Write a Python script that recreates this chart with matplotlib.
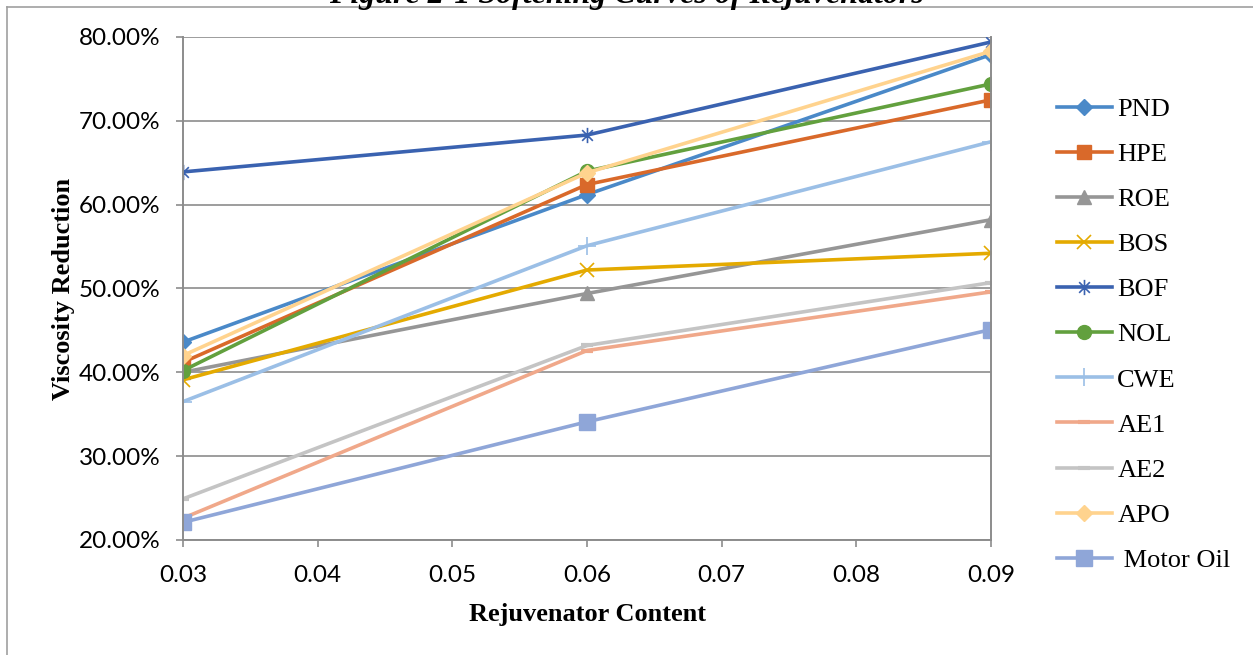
import numpy as np
import matplotlib.pyplot as plt
from matplotlib.lines import Line2D
from matplotlib.path import Path
from matplotlib.ticker import FuncFormatter, MultipleLocator

plt.rcParams.update({
    'font.family': 'serif',
    'font.serif': ['Liberation Serif'],
})

# rejuvenator content (x) and viscosity reduction in % (y)
content = [0.03, 0.06, 0.09]

names = ['PND', 'HPE', 'ROE', 'BOS', 'BOF', 'NOL', 'CWE', 'AE1', 'AE2', 'APO', ' Motor Oil']
pnd = [43.6, 61.2, 77.9]
hpe = [41.2, 62.4, 72.5]
roe = [40.0, 49.4, 58.2]
bos = [39.1, 52.2, 54.2]
bof = [63.9, 68.3, 79.4]
nol = [40.2, 64.0, 74.4]
cwe = [36.5, 55.1, 67.5]
ae1 = [22.6, 42.6, 49.6]
ae2 = [24.9, 43.2, 50.7]
apo = [42.0, 63.8, 78.3]
motor_oil = [22.1, 34.1, 45.1]
series = [pnd, hpe, roe, bos, bof, nol, cwe, ae1, ae2, apo, motor_oil]

colors = ['#4A89C8', '#D9692A', '#969696', '#E4AA00', '#3A62B0', '#62A03E',
          '#9BBFE6', '#F0A88A', '#C4C4C4', '#FFD38E', '#8FA6D8']

# excel style star: an x with a vertical stroke
star = Path([(0, -1), (0, 1), (-0.7, -0.7), (0.7, 0.7), (-0.7, 0.7), (0.7, -0.7)],
            [Path.MOVETO, Path.LINETO] * 3)

# (marker, size, edge width)
markers = [('D', 8, 1), ('s', 10, 1), ('^', 10, 1), ('x', 10, 1.2), (star, 11, 1.2),
           ('o', 10, 1), ('+', 13, 1.2), ('_', 9, 3), ('_', 9, 3), ('D', 8, 1), ('s', 11, 1)]

fig = plt.figure(figsize=(12.53, 6.55), dpi=100)
ax = fig.add_axes([0.146, 0.1756, 0.645, 0.768])

for name, vals, c, (m, ms, mew) in zip(names, series, colors, markers):
    ax.plot(content, vals, color=c, lw=2.6, marker=m, markersize=ms,
            markerfacecolor=c, markeredgecolor=c, markeredgewidth=mew, label=name)

ax.set_xlim(0.03, 0.09)
ax.set_ylim(20, 80)
ax.xaxis.set_major_locator(MultipleLocator(0.01))
ax.yaxis.set_major_locator(MultipleLocator(10))
ax.xaxis.set_major_formatter(FuncFormatter(lambda v, p: f'{v:.2f}'))
ax.yaxis.set_major_formatter(FuncFormatter(lambda v, p: f'{v:.2f}%'))
ax.grid(axis='y', color='#8C8C8C', lw=1.2)
ax.set_axisbelow(True)
for s in ['left', 'bottom', 'right']:
    ax.spines[s].set_color('#8C8C8C')
    ax.spines[s].set_linewidth(1.4)
ax.spines['top'].set_visible(False)
ax.tick_params(direction='out', length=5, width=1.2, color='#8C8C8C', labelsize=17.5)
ax.tick_params(axis='x', pad=13)
ax.tick_params(axis='y', pad=11)
for lbl in ax.get_xticklabels() + ax.get_yticklabels():
    lbl.set_family('Lato')

ax.set_xlabel('Rejuvenator Content', fontsize=19, fontweight='bold', labelpad=12)
ax.set_ylabel('Viscosity Reduction', fontsize=19, fontweight='bold', labelpad=3)

ax.legend(loc='center left', bbox_to_anchor=(1.068, 0.408), frameon=False,
          fontsize=19, handlelength=2.1, handletextpad=0.2, labelspacing=0.82,
          borderaxespad=0)

fig.text(0.5, 1 - 3 / 655, 'Figure 2-1 Softening Curves of Rejuvenators',
         ha='center', va='baseline', fontsize=23, fontweight='bold', style='italic')

# outer frame (top and left edges)
fig.add_artist(Line2D([7 / 1253, 1], [1 - 7 / 655, 1 - 7 / 655], color='#A0A0A0', lw=1.2,
                      transform=fig.transFigure))
fig.add_artist(Line2D([7 / 1253, 7 / 1253], [0, 1 - 7 / 655], color='#A0A0A0', lw=1.2,
                      transform=fig.transFigure))

fig.savefig('out.png', dpi=100)
